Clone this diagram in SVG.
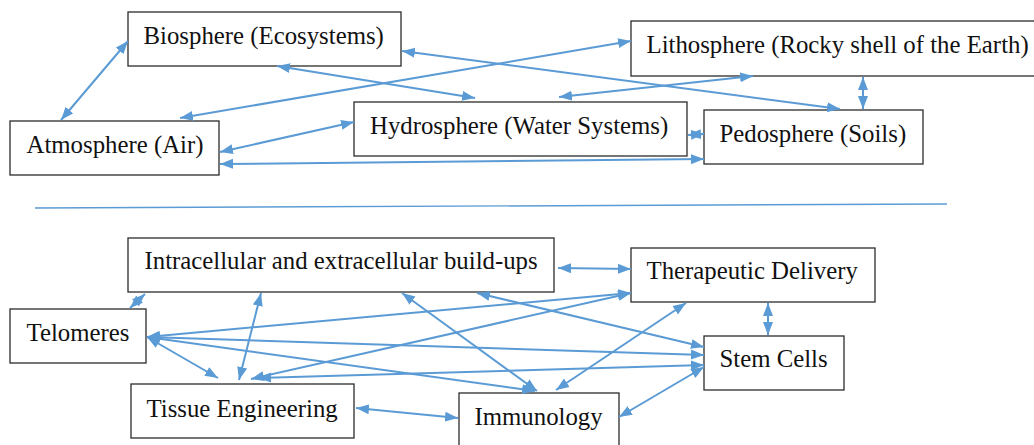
<svg xmlns="http://www.w3.org/2000/svg" width="1034" height="445" viewBox="0 0 1034 445">
<style>
.box{fill:#fff;stroke:#2b2b2b;stroke-width:1.3}
.lbl{font-family:"Liberation Serif","Times New Roman",serif;font-size:24.8px;fill:#111}
.c{stroke:#5B9BD5;stroke-width:2;fill:none;marker-start:url(#ah);marker-end:url(#ah)}
</style>
<defs>
<marker id="ah" markerUnits="userSpaceOnUse" markerWidth="14" markerHeight="11" refX="13" refY="5" orient="auto-start-reverse" viewBox="0 0 14 10">
<path d="M0,0 L13,5 L0,10 z" fill="#5B9BD5"/>
</marker>
</defs>
<rect width="1034" height="445" fill="#fff"/>
<g id="nodes-top">
<g id="biosphere"><rect class="box" x="128" y="12" width="273" height="54"/><text class="lbl" x="143.5" y="43.5">Biosphere (Ecosystems)</text></g>
<g id="atmosphere"><rect class="box" x="10" y="121" width="209" height="54"/><text class="lbl" x="26.5" y="152.5">Atmosphere (Air)</text></g>
<g id="hydrosphere"><rect class="box" x="354" y="102" width="333" height="54"/><text class="lbl" x="370" y="133.5">Hydrosphere (Water Systems)</text></g>
<g id="lithosphere"><rect class="box" x="631" y="21" width="405" height="55"/><text class="lbl" x="646.5" y="52.5">Lithosphere (Rocky shell of the Earth)</text></g>
<g id="pedosphere"><rect class="box" x="704" y="110" width="219" height="54"/><text class="lbl" x="719.5" y="142">Pedosphere (Soils)</text></g>
</g>
<g id="nodes-bottom">
<g id="intracellular"><rect class="box" x="128" y="238" width="426" height="54"/><text class="lbl" x="144.5" y="268.5">Intracellular and extracellular build-ups</text></g>
<g id="therapeutic"><rect class="box" x="631" y="248" width="244" height="54"/><text class="lbl" x="646.5" y="278.5">Therapeutic Delivery</text></g>
<g id="telomeres"><rect class="box" x="10" y="309" width="136" height="54"/><text class="lbl" x="26.5" y="341">Telomeres</text></g>
<g id="tissue"><rect class="box" x="131" y="384" width="223" height="54"/><text class="lbl" x="146.5" y="416.5">Tissue Engineering</text></g>
<g id="immunology"><rect class="box" x="459" y="393" width="160" height="58"/><text class="lbl" x="474.5" y="425">Immunology</text></g>
<g id="stemcells"><rect class="box" x="704" y="336" width="140" height="54"/><text class="lbl" x="719.5" y="367">Stem Cells</text></g>
</g>
<line id="separator" x1="35" y1="208" x2="947" y2="204" stroke="#5B9BD5" stroke-width="1.4"/>
<g id="connectors">
<line class="c" x1="128" y1="41" x2="61" y2="120"/>
<line class="c" x1="631" y1="41" x2="180" y2="118"/>
<line class="c" x1="402" y1="51" x2="840" y2="109"/>
<line class="c" x1="277" y1="66" x2="475" y2="98"/>
<line class="c" x1="753" y1="76" x2="559" y2="97"/>
<line class="c" x1="863" y1="77" x2="863" y2="109"/>
<line class="c" x1="220" y1="152" x2="354" y2="122"/>
<line class="c" x1="220" y1="164" x2="704" y2="159"/>
<line class="c" x1="688" y1="135" x2="704" y2="134"/>
<line class="c" x1="145" y1="294" x2="130" y2="308"/>
<line class="c" x1="261" y1="293" x2="239" y2="380"/>
<line class="c" x1="147" y1="337" x2="218" y2="378"/>
<line class="c" x1="402" y1="293" x2="537" y2="391"/>
<line class="c" x1="477" y1="293" x2="704" y2="347"/>
<line class="c" x1="558" y1="268" x2="631" y2="269"/>
<line class="c" x1="147" y1="337" x2="631" y2="293"/>
<line class="c" x1="251" y1="379" x2="631" y2="293"/>
<line class="c" x1="556" y1="390" x2="686" y2="303"/>
<line class="c" x1="768" y1="303" x2="768" y2="335"/>
<line class="c" x1="147" y1="337" x2="704" y2="355"/>
<line class="c" x1="147" y1="337" x2="535" y2="391"/>
<line class="c" x1="258" y1="378" x2="704" y2="365"/>
<line class="c" x1="356" y1="408" x2="458" y2="418"/>
<line class="c" x1="619" y1="417" x2="704" y2="367"/>
</g>
</svg>
